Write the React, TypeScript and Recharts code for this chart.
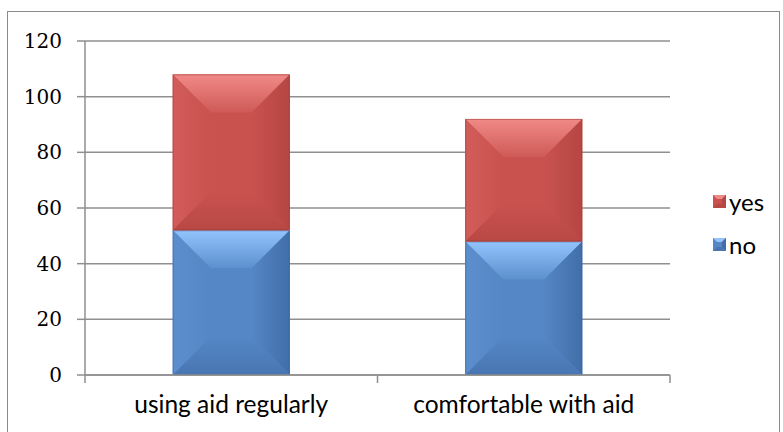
import React from "react";
import { BarChart, Bar, XAxis, YAxis, CartesianGrid } from "recharts";

const categories = ["using aid regularly", "comfortable with aid"];
const noValues = [52, 48];
const yesValues = [56, 44];
const yTicks = [0, 20, 40, 60, 80, 100, 120];

const data = categories.map((c, i) => ({ name: c, no: noValues[i], yes: yesValues[i] }));

const LABEL_FONT = "Lato, sans-serif";
const AXIS_COLOR = "#8f8f8f";

const palettes: Record<string, any> = {
  yes: { center: "#C9524F", topEdge: "#F08A87", topInner: "#CF5A57", left: "#D25C59", right: "#B54643", bottom: "#B84845", edge: "#9E3A37" },
  no: { center: "#5586C5", topEdge: "#93C4FC", topInner: "#5C8FCE", left: "#5C8ECE", right: "#416EA8", bottom: "#4876B2", edge: "#36608F" },
};

const Bevel = (props: any) => {
  const { x, y, width: w, height: h, dataKey } = props;
  if (!w || !h || h <= 0) return null;
  const p = palettes[dataKey];
  const b = Math.min(38, w / 3, h / 3);
  const pts = (arr: number[][]) => arr.map((a) => a.join(",")).join(" ");
  const id = `${dataKey}-${Math.round(x)}`;
  return (
    <g>
      <defs>
        <linearGradient id={`t-${id}`} x1="0" y1="0" x2="0" y2="1">
          <stop offset="0" stopColor={p.topEdge} />
          <stop offset="1" stopColor={p.topInner} />
        </linearGradient>
        <linearGradient id={`l-${id}`} x1="0" y1="0" x2="1" y2="0">
          <stop offset="0" stopColor={p.left} />
          <stop offset="1" stopColor={p.center} />
        </linearGradient>
        <linearGradient id={`r-${id}`} x1="1" y1="0" x2="0" y2="0">
          <stop offset="0" stopColor={p.right} />
          <stop offset="1" stopColor={p.center} />
        </linearGradient>
        <linearGradient id={`b-${id}`} x1="0" y1="1" x2="0" y2="0">
          <stop offset="0" stopColor={p.bottom} />
          <stop offset="1" stopColor={p.center} />
        </linearGradient>
      </defs>
      <rect x={x} y={y} width={w} height={h} fill={p.center} />
      <polygon points={pts([[x, y], [x + w, y], [x + w - b, y + b], [x + b, y + b]])} fill={`url(#t-${id})`} />
      <polygon points={pts([[x, y], [x + b, y + b], [x + b, y + h - b], [x, y + h]])} fill={`url(#l-${id})`} />
      <polygon points={pts([[x + w, y], [x + w, y + h], [x + w - b, y + h - b], [x + w - b, y + b]])} fill={`url(#r-${id})`} />
      <polygon points={pts([[x, y + h], [x + b, y + h - b], [x + w - b, y + h - b], [x + w, y + h]])} fill={`url(#b-${id})`} />
      <rect x={x + 0.5} y={y + 0.5} width={w - 1} height={h - 1} fill="none" stroke={p.edge} strokeOpacity={0.5} strokeWidth={1} />
    </g>
  );
};

const CategoryTick = (props: any) => {
  const { x, y, payload, index } = props;
  const half = payload && payload.offset ? payload.offset : 0;
  const isLast = index === categories.length - 1;
  return (
    <g>
      <line x1={x - half} y1={y} x2={x - half} y2={y + 8} stroke={AXIS_COLOR} strokeWidth={1.5} />
      {isLast && <line x1={x + half} y1={y} x2={x + half} y2={y + 8} stroke={AXIS_COLOR} strokeWidth={1.5} />}
      <text x={x} y={y + 21} dy="0.71em" textAnchor="middle" fill="#000" fontSize={24.5} fontFamily={LABEL_FONT}>
        {payload.value}
      </text>
    </g>
  );
};

const LegendBox = () => {
  const items = [
    { key: "yes", label: "yes" },
    { key: "no", label: "no" },
  ];
  return (
    <div style={{ position: "absolute", left: 713, top: 180, fontFamily: LABEL_FONT, fontSize: 24, color: "#000" }}>
      {items.map((it) => {
        const p = palettes[it.key];
        return (
          <div key={it.key} style={{ display: "flex", alignItems: "center", height: 43 }}>
            <svg width={13} height={13} style={{ marginRight: 3 }}>
              <rect x={0} y={0} width={13} height={13} fill={p.center} />
              <polygon points="0,0 13,0 9,4 4,4" fill={p.topEdge} />
              <polygon points="13,0 13,13 9,9 9,4" fill={p.right} />
              <polygon points="0,13 4,9 9,9 13,13" fill={p.bottom} />
            </svg>
            <span>{it.label}</span>
          </div>
        );
      })}
    </div>
  );
};

export default function App() {
  return (
    <div style={{ position: "absolute", left: 0, top: 0, width: 783, height: 432, background: "#fff", overflow: "hidden" }}>
      <div style={{ position: "absolute", left: 7, top: 11, width: 771, height: 440, border: "1px solid #8a8a8a" }} />
      <div style={{ position: "absolute", left: 0, top: 0 }}>
        <BarChart
          width={783}
          height={432}
          data={data}
          margin={{ top: 41, right: 113, bottom: 27, left: 0 }}
          barCategoryGap="30%"
        >
          <CartesianGrid vertical={false} stroke={AXIS_COLOR} strokeWidth={1.5} />
          <XAxis
            dataKey="name"
            height={30}
            axisLine={{ stroke: AXIS_COLOR, strokeWidth: 1.5 }}
            tickLine={false}
            tickSize={0}
            tickMargin={0}
            tick={<CategoryTick />}
            interval={0}
          />
          <YAxis
            width={85}
            domain={[0, 120]}
            ticks={yTicks}
            axisLine={{ stroke: AXIS_COLOR, strokeWidth: 1.5 }}
            tickLine={{ stroke: AXIS_COLOR, strokeWidth: 1.5 }}
            tickSize={8}
            tickMargin={15}
            tick={{ fill: "#000", fontSize: 20, fontFamily: "DejaVu Serif, serif" }}
          />
          <Bar dataKey="no" stackId="a" isAnimationActive={false} shape={<Bevel dataKey="no" />} />
          <Bar dataKey="yes" stackId="a" isAnimationActive={false} shape={<Bevel dataKey="yes" />} />
        </BarChart>
      </div>
      <LegendBox />
    </div>
  );
}
